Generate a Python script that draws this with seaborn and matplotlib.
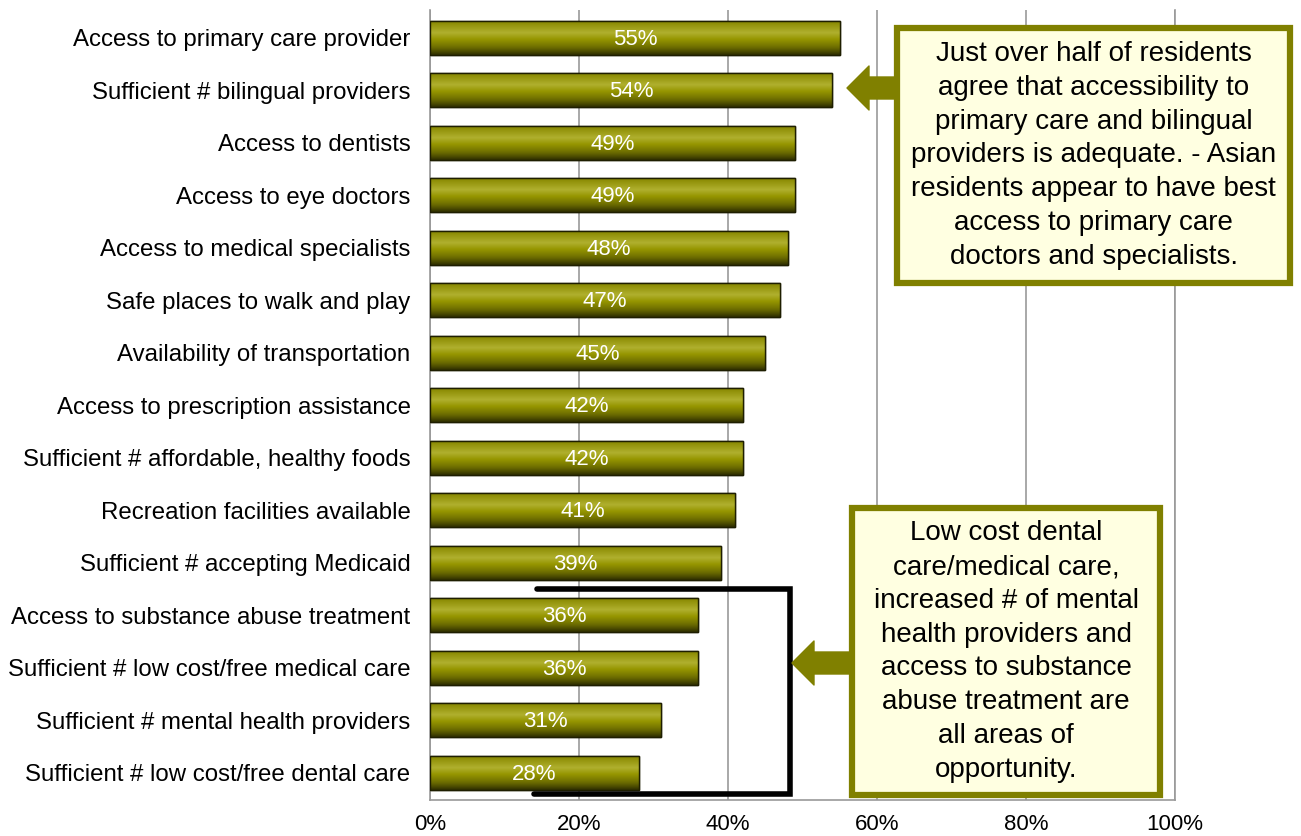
import numpy as np
import pandas as pd
import matplotlib
matplotlib.use("Agg")
import matplotlib.pyplot as plt
import seaborn as sns
from matplotlib.colors import LinearSegmentedColormap
from matplotlib.patches import Rectangle, Polygon
from matplotlib.ticker import FuncFormatter

categories = [
    "Access to primary care provider",
    "Sufficient # bilingual providers",
    "Access to dentists",
    "Access to eye doctors",
    "Access to medical specialists",
    "Safe places to walk and play",
    "Availability of transportation",
    "Access to prescription assistance",
    "Sufficient # affordable, healthy foods",
    "Recreation facilities available",
    "Sufficient # accepting Medicaid",
    "Access to substance abuse treatment",
    "Sufficient # low cost/free medical care",
    "Sufficient # mental health providers",
    "Sufficient # low cost/free dental care",
]
agree_pct = [55, 54, 49, 49, 48, 47, 45, 42, 42, 41, 39, 36, 36, 31, 28]
x_ticks = [0, 20, 40, 60, 80, 100]

note_top = ("Just over half of residents\nagree that accessibility to\n"
            "primary care and bilingual\nproviders is adequate. - Asian\n"
            "residents appear to have best\naccess to primary care\n"
            "doctors and specialists.")
note_bottom = ("Low cost dental\ncare/medical care,\nincreased # of mental\n"
               "health providers and\naccess to substance\nabuse treatment are\n"
               "all areas of\nopportunity.")

OLIVE = "#808000"
NOTE_BG = "#FFFFE1"

sns.set_theme(style="white")
plt.rcParams["font.family"] = ["Liberation Sans", "DejaVu Sans"]

W, H = 1301, 836
fig = plt.figure(figsize=(W / 100, H / 100), dpi=100)
ax = fig.add_axes([430 / W, 1 - 800 / H, 745 / W, 790 / H])

df = pd.DataFrame({"item": categories, "pct": agree_pct})
sns.barplot(data=df, x="pct", y="item", orient="h", ax=ax, width=0.65,
            color=OLIVE, edgecolor="#1e1e00", linewidth=1.0, saturation=1, zorder=3)

# metallic olive shading inside each bar
shade = LinearSegmentedColormap.from_list("olive_shade", [
    (0.00, "#7a7a00"), (0.10, "#909008"), (0.36, "#b0b02e"),
    (0.55, "#969600"), (0.80, "#6a6a00"), (1.00, "#303000")])
grad = np.linspace(0, 1, 64).reshape(-1, 1)
for bar in ax.patches:
    x0, y0 = bar.get_x(), bar.get_y()
    w, h = bar.get_width(), bar.get_height()
    im = ax.imshow(grad, cmap=shade, aspect="auto", origin="upper",
                   extent=(x0, x0 + w, y0 + h, y0), zorder=3.5, interpolation="bilinear")
    im.set_clip_path(bar)
    ax.add_patch(Rectangle((x0, y0), w, h, fill=False, edgecolor="#1e1e00",
                           linewidth=1.0, zorder=4))
    ax.text(x0 + w / 2, y0 + h / 2 + 0.03, f"{w:.0f}%", color="white", fontsize=16,
            ha="center", va="center", zorder=5)

ax.set_xlim(0, 100)
ax.set_ylim(14.52, -0.53)
ax.set_xticks(x_ticks)
ax.xaxis.set_major_formatter(FuncFormatter(lambda v, _: f"{v:.0f}%"))
ax.set_xlabel("")
ax.set_ylabel("")
ax.grid(axis="x", color="#999999", linewidth=1.2, zorder=0)
ax.set_axisbelow(True)
ax.tick_params(axis="both", length=0, colors="black")
ax.tick_params(axis="y", pad=14, labelsize=17.3)
ax.tick_params(axis="x", pad=10, labelsize=16)
for side in ("left", "bottom", "right"):
    ax.spines[side].set_visible(True)
    ax.spines[side].set_color("#999999")
    ax.spines[side].set_linewidth(1.2)
ax.spines["top"].set_visible(False)

# bracket around the lowest-rated items
ax.plot([14.4, 48.3, 48.3, 14.0], [10.5, 10.5, 14.41, 14.41], color="black",
        linewidth=4, solid_joinstyle="miter", zorder=6, clip_on=False)


def fx(px):
    return px / W


def fy(py):
    return 1 - py / H


def note(x0, y0, x1, y1, text):
    fig.add_artist(Rectangle((fx(x0), fy(y1)), fx(x1) - fx(x0), fy(y0) - fy(y1),
                             transform=fig.transFigure, facecolor=NOTE_BG,
                             edgecolor=OLIVE, linewidth=4.5, zorder=10))
    fig.text(fx((x0 + x1) / 2), fy((y0 + y1) / 2), text, ha="center", va="center",
             fontsize=20, linespacing=1.39, color="black", zorder=11)


def left_arrow(tip_x, cy, base_x, head_len, head_half, shaft_half):
    pts = [(tip_x, cy), (tip_x + head_len, cy - head_half),
           (tip_x + head_len, cy - shaft_half), (base_x, cy - shaft_half),
           (base_x, cy + shaft_half), (tip_x + head_len, cy + shaft_half),
           (tip_x + head_len, cy + head_half)]
    fig.add_artist(Polygon([(fx(a), fy(b)) for a, b in pts], closed=True,
                           transform=fig.transFigure, facecolor=OLIVE,
                           edgecolor=OLIVE, linewidth=1, joinstyle="round", zorder=9))


left_arrow(847, 88, 899, 22, 22, 11)
note(897, 28, 1290, 283, note_top)
left_arrow(792, 663, 854, 22, 22, 11)
note(852, 508, 1160, 795, note_bottom)

fig.savefig("out.png", dpi=100, facecolor="white")
